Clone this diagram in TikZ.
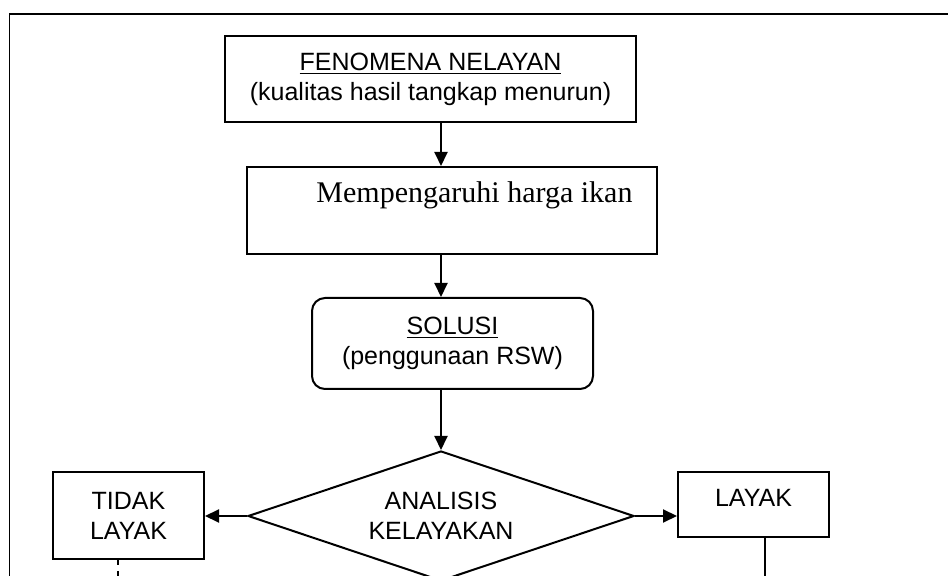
\documentclass[tikz,border=0pt]{standalone}
\usepackage{fontspec}
\setmainfont{Liberation Sans}
\newfontfamily\timesfont{Liberation Serif}
\usetikzlibrary{shapes.geometric,arrows.meta}

\tikzset{
  box/.style={draw,line width=1pt,align=center,inner sep=0pt,
    font=\fontsize{12.5}{15}\selectfont},
  arr/.style={draw,line width=1pt,-{Triangle[length=7pt,width=6.5pt]}},
}

\begin{document}
\begin{tikzpicture}[x=0.5pt,y=-0.5pt]

      \useasboundingbox (0,0) rectangle (948,576);
      \clip (0,0) rectangle (948,576);
      \draw[line width=0.9pt] (9.5,600) |- (960,14);

      \begin{scope}[every node/.style={box}]
        \node[minimum width=205.5pt,minimum height=43pt] (fenomena) at (430.5,79)
          {\underline{FENOMENA NELAYAN}\\(kualitas hasil tangkap menurun)};
        \node[minimum width=205pt,minimum height=43.5pt] (harga) at (452,210.5) {};
        \node[draw=none,font=\timesfont\fontsize{15}{18}\selectfont] (hargatxt) at (474.5,195)
          {Mempengaruhi harga ikan};
        \node[rounded corners=6.5pt,minimum width=140.5pt,minimum height=45.5pt] (solusi) at (452.5,343.5)
          {\underline{SOLUSI}\\(penggunaan RSW)};
        \node[diamond,aspect=2.97,minimum width=193pt,minimum height=65pt] (analisis) at (441,516)
          {ANALISIS\\KELAYAKAN};
        \node[minimum width=75.5pt,minimum height=43.5pt] (tidak) at (128.5,515.5) {TIDAK\\LAYAK};
        \node[minimum width=75.5pt,minimum height=32.5pt,text height=9pt,text depth=7pt] (layak) at (753.5,504.5) {LAYAK};
      \end{scope}

      \coordinate (tidakend) at (118,600);
      \coordinate (layakend) at (765,600);

      \path[arr] (fenomena.south -| analisis.north) -- (harga.north -| analisis.north);
      \path[arr] (harga.south -| analisis.north) -- (solusi.north -| analisis.north);
      \path[arr] (solusi.south -| analisis.north) -- (analisis.north);
      \path[arr] (analisis.west) -- (analisis.west -| tidak.east);
      \path[arr] (analisis.east) -- (analisis.east -| layak.west);
      \draw[line width=1pt] (layak.south -| layakend) -- (layakend);
      \draw[line width=1pt,dash pattern=on 2.5pt off 3pt] (tidak.south -| tidakend) -- (tidakend);

    \end{tikzpicture}
\end{document}
